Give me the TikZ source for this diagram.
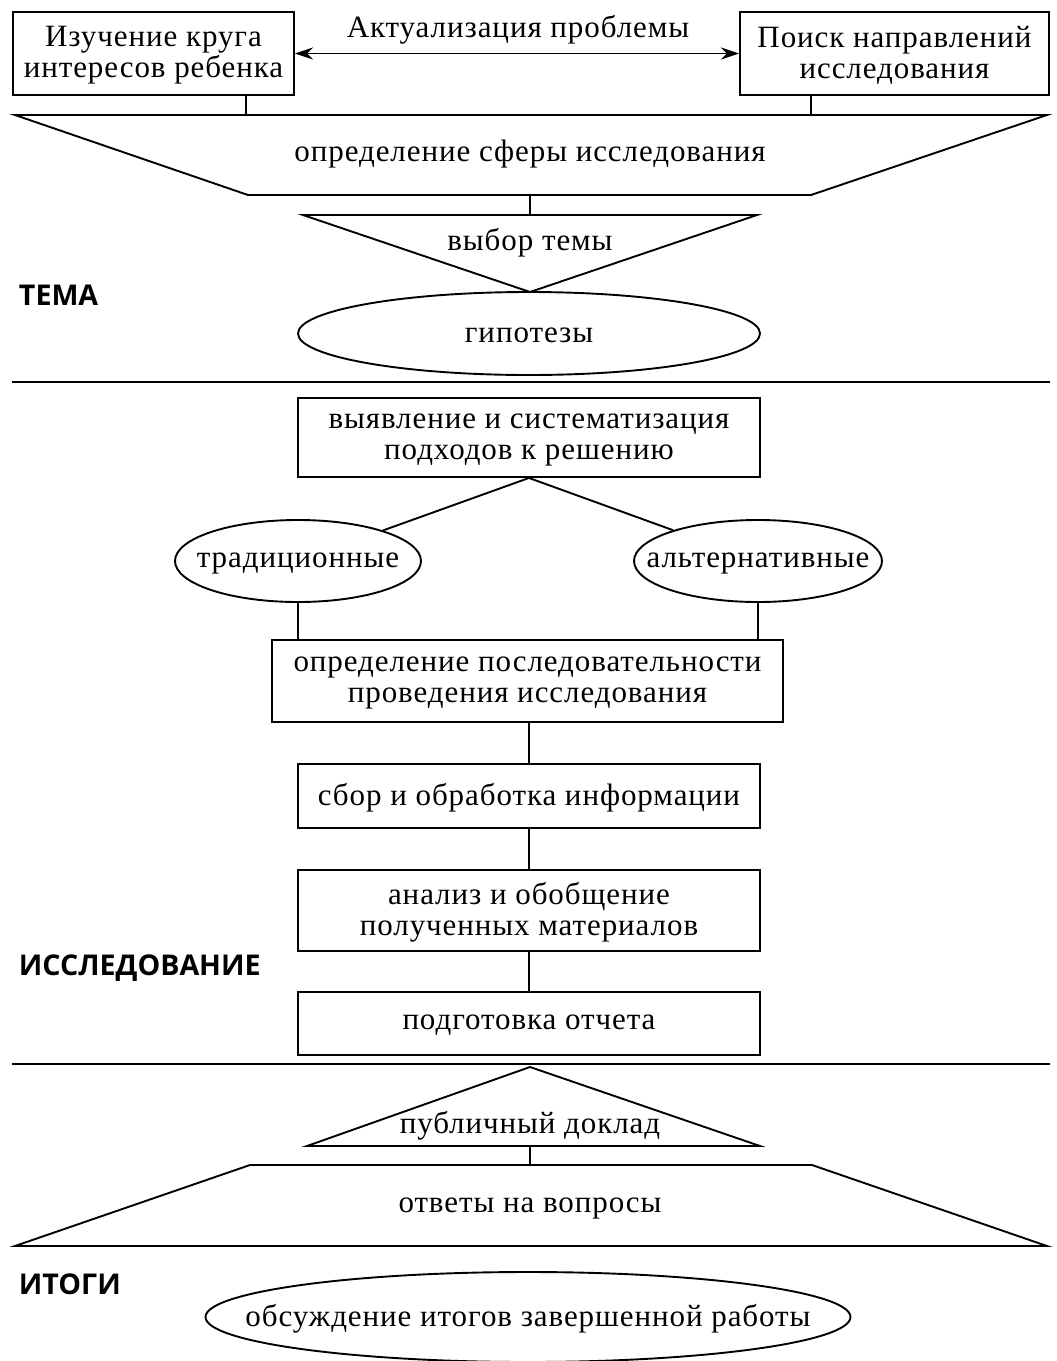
\documentclass[tikz,border=0pt]{standalone}
\usepackage{fontspec}
\setmainfont{Liberation Serif}[LetterSpace=3]
\newfontfamily\lblfont{Open Sans}
\usetikzlibrary{shapes.geometric,arrows.meta}
\begin{document}
\begin{tikzpicture}[x=0.5pt,y=-0.5pt,line width=0.95pt,
  txt/.style={font=\fontsize{15.5}{15.5}\selectfont,align=center,inner sep=0pt},
  lbl/.style={txt,yshift=-1pt},
  box/.style={draw,rectangle,txt},
  oval/.style={draw,ellipse,inner sep=0pt},
  sect/.style={font=\lblfont\bfseries\fontsize{14.3}{16}\selectfont,anchor=west,inner sep=0pt},
  sep/.style={line width=1.1pt},
  tip/.style={{Stealth[length=9pt,width=6pt]}-{Stealth[length=9pt,width=6pt]}}]
\useasboundingbox (0,0) rectangle (1056,1361);

% top row
\node[draw,minimum width=140.5pt,minimum height=41.5pt] (b1) at (153.5,53.5) {};
\node[lbl] (b1txt) at (b1) {Изучение круга\\интересов ребенка};
\node[draw,minimum width=154.5pt,minimum height=41.5pt] (b2) at (894.5,53.5) {};
\node[lbl] (b2txt) at (b2) {Поиск направлений\\исследования};
\node[lbl] (akt) at (518,28) {Актуализация проблемы};
\draw[tip] (b1.east) -- (b2.west);

% trapezoid 1
\coordinate (t1a) at (15,115);
\coordinate (t1b) at (1047,115);
\coordinate (t1c) at (811,195);
\coordinate (t1d) at (248,195);
\draw (t1a) -- (t1b) -- (t1c) -- (t1d) -- cycle;
\node[lbl] (sfera) at (530,152) {определение сферы исследования};
\coordinate (c1) at (246,115);
\coordinate (c2) at (811,115);
\draw (b1.south -| c1) -- (c1);
\draw (b2.south -| c2) -- (c2);

% triangle 1
\coordinate (tr1a) at (303,215);
\coordinate (tr1b) at (757,215);
\coordinate (tr1c) at (530,292);
\draw (tr1a) -- (tr1b) -- (tr1c) -- cycle;
\node[lbl] (tema) at (530,241) {выбор темы};
\coordinate (s1) at (530,195);
\coordinate (s2) at (530,215);
\draw (s1) -- (s2);

\node[oval,minimum width=231pt,minimum height=41.5pt] (gip) at (529,333.5) {};
\node[lbl] (giptxt) at (gip) {гипотезы};
\node[sect] (lt) at (18,295) {ТЕМА};

% separator
\coordinate (L1a) at (12,382);
\coordinate (L1b) at (1050,382);
\draw[sep] (L1a) -- (L1b);

% research
\node[draw,minimum width=231pt,minimum height=39.5pt] (b3) at (529,437.5) {};
\node[lbl] (b3txt) at (b3) {выявление и систематизация\\подходов к решению};
\node[oval,minimum width=123pt,minimum height=41pt] (trad) at (298,561) {};
\node[lbl] (tradtxt) at (trad) {традиционные};
\node[oval,minimum width=124pt,minimum height=41pt] (alt) at (758,561) {};
\node[lbl] (alttxt) at (alt) {альтернативные};
\node[draw,minimum width=255.5pt,minimum height=41pt] (b4) at (527.5,681) {};
\node[lbl] (b4txt) at (b4) {определение последовательности\\проведения исследования};
\node[draw,minimum width=231pt,minimum height=32pt] (b5) at (529,796) {};
\node[lbl] (b5txt) at (b5) {сбор и обработка информации};
\node[draw,minimum width=231pt,minimum height=40.5pt] (b6) at (529,910.5) {};
\node[lbl] (b6txt) at (b6) {анализ и обобщение\\полученных материалов};
\node[draw,minimum width=231pt,minimum height=31.5pt] (b7) at (529,1023.5) {};
\node[lbl] (b7txt) at (b7) {подготовка отчета};
\draw (b3.south) -- (trad);
\draw (b3.south) -- (alt);
\draw (trad.south) -- (trad.south |- b4.north);
\draw (alt.south) -- (alt.south |- b4.north);
\draw (b4.south -| b5.north) -- (b5.north);
\draw (b5) -- (b6);
\draw (b6) -- (b7);
\node[sect] (lr) at (18,968) {ИССЛЕДОВАНИЕ};

% separator
\coordinate (L2a) at (12,1064);
\coordinate (L2b) at (1050,1064);
\draw[sep] (L2a) -- (L2b);

% results
\coordinate (tr2a) at (530,1067);
\coordinate (tr2b) at (760,1146);
\coordinate (tr2c) at (307,1146);
\draw (tr2a) -- (tr2b) -- (tr2c) -- cycle;
\node[lbl] (dokl) at (530,1124) {публичный доклад};
\coordinate (t2a) at (250,1165);
\coordinate (t2b) at (812,1165);
\coordinate (t2c) at (1047,1246);
\coordinate (t2d) at (15,1246);
\draw (t2a) -- (t2b) -- (t2c) -- (t2d) -- cycle;
\node[lbl] (otv) at (530,1206) {ответы на вопросы};
\coordinate (s3) at (530,1146);
\coordinate (s4) at (530,1165);
\draw (s3) -- (s4);
\node[sect] (li) at (18,1284) {ИТОГИ};
\node[oval,minimum width=322.5pt,minimum height=45pt] (obs) at (528,1317) {};
\node[lbl] (obstxt) at (obs) {обсуждение итогов завершенной работы};
\end{tikzpicture}
\end{document}
